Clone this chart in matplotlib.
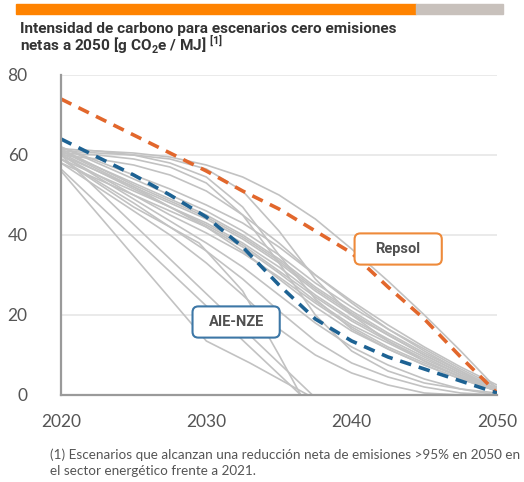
import numpy as np
import matplotlib
matplotlib.use('Agg')
import matplotlib.pyplot as plt
from matplotlib.patches import Rectangle, FancyBboxPatch

plt.rcParams['font.family'] = ['Lato', 'DejaVu Sans']
plt.rcParams['mathtext.fontset'] = 'custom'
plt.rcParams['mathtext.rm'] = 'Roboto'
plt.rcParams['mathtext.bf'] = 'Roboto:bold'

# Years shared by most scenario lines
years = [2020, 2022.5, 2025, 2027.5, 2030, 2032.5, 2035, 2037.5, 2040, 2042.5, 2045, 2047.5, 2050]

# Highlighted scenarios
repsol = [74, 69.5, 65, 60.5, 56, 51, 46.5, 41, 35.5, 27, 19, 9.5, 0.5]
aie_nze = [64, 59.5, 55, 50, 44.5, 37, 27.5, 19, 13.5, 9.5, 6.5, 3.5, 0.5]

# Other net-zero scenarios (grey), on the shared years
scenarios = [
    # plateau then late fall
    [61.5, 61, 60.5, 59.5, 57.5, 54.5, 50, 44, 36.5, 28.5, 20, 11, 1.5],
    [61, 60.5, 60, 59, 56.5, 51, 41, 29, 20, 13.5, 8.5, 4.5, 1],
    [61.5, 61, 60, 58, 54.5, 47, 35, 24, 16.5, 11.5, 7.5, 4, 1],
    [60.5, 60, 59, 57, 53, 45, 33, 20, 11, 6, 3, 1.5, 0.5],
    [60, 59, 57.5, 55, 51, 45, 38, 30, 23, 16.5, 11, 6, 1.5],
    # main bundle
    [62, 58, 54, 50, 46, 41, 35, 28, 22, 16.5, 11.5, 6.5, 2],
    [61, 57, 53, 49, 45, 40, 34, 27, 21, 15.5, 10.5, 6, 1.5],
    [60, 56, 52, 48, 44, 39, 33, 26, 20, 15, 10, 5.5, 1.5],
    [61.5, 57, 52.5, 48.5, 44.5, 39.5, 33.5, 26.5, 20.5, 15, 10, 5.5, 1],
    [59, 55, 51, 47, 43, 38, 32, 25, 19, 14, 9.5, 5, 1],
    [60.5, 56, 51.5, 47, 42.5, 37.5, 31, 24.5, 18.5, 13.5, 9, 5, 1],
    [58, 54, 50, 46, 42, 37, 30.5, 23.5, 17.5, 13, 8.5, 4.5, 1],
    [62, 58.5, 55, 51.5, 47.5, 43, 37, 30, 23.5, 17.5, 12, 7, 2.5],
    [61, 56.5, 52, 47, 42, 36, 29, 22, 16, 11.5, 7.5, 4, 1],
    [60, 55, 50, 45, 40.5, 35.5, 29.5, 23, 17, 12, 8, 4.5, 1],
    # lower, faster decline
    [58, 52, 46, 40, 33, 25, 16.5, 10, 5.5, 2.5, 0.5, 0, 0],
    [59, 53.5, 48, 42, 36, 29, 21, 13.5, 8, 4.5, 2, 0.5, 0],
    [60, 54.5, 49, 43.5, 38, 32, 25, 18, 12, 7.5, 4, 1.5, 0],
]

# Scenarios with their own years (reach zero before 2040)
early_years = [
    [2020, 2030, 2033, 2037],
    [2020, 2037.3],
    [2020, 2036.5],
    [2020, 2025, 2029.5, 2032.5, 2035, 2036.5],
]
early_values = [
    [56, 13.5, 8, 0],
    [60, 0],
    [56.5, 0],
    [59, 47, 38, 26, 10, 0],
]

x_ticks = [2020, 2030, 2040, 2050]
y_ticks = [0, 20, 40, 60, 80]

fig = plt.figure(figsize=(5.24, 4.82), dpi=100)
ax = fig.add_axes([0.1164, 0.1805, 0.8321, 0.6639])

grey = '#C2C2C2'
for vals in scenarios:
    ax.plot(years, vals, color=grey, lw=1.2, solid_capstyle='round', zorder=2)
for xs, vals in zip(early_years, early_values):
    ax.plot(xs, vals, color=grey, lw=1.2, zorder=2)

ax.plot(years, repsol, color='#E2672C', lw=2.6, dashes=(3.2, 2.2), zorder=4)
ax.plot(years, aie_nze, color='#1D6293', lw=2.6, dashes=(3.2, 2.2), zorder=4)

ax.set_xlim(2020, 2050)
ax.set_ylim(0, 80)
ax.set_xticks(x_ticks)
ax.set_yticks(y_ticks)
ax.grid(axis='y', color='#E6E6E6', lw=1.2, zorder=0)
ax.set_axisbelow(True)
for s in ['top', 'right']:
    ax.spines[s].set_visible(False)
for s in ['left', 'bottom']:
    ax.spines[s].set_color('#9A9A9A')
    ax.spines[s].set_linewidth(1.6)
ax.spines['left'].set_zorder(5)
ax.spines['bottom'].set_zorder(5)
ax.tick_params(length=0, labelcolor='#555555', labelsize=12.5)
ax.tick_params(axis='y', pad=24)
ax.tick_params(axis='x', pad=14)

# label boxes (pixel ratio: 1 yr = 14.57 px, 1 unit = 4 px)
asp = 14.57 / 4
for cx, cy, txt, col in [(2043.2, 36.5, 'Repsol', '#EE8A3A'), (2032.05, 18.25, 'AIE-NZE', '#3D77A6')]:
    w, h = 6.0, 7.8
    box = FancyBboxPatch((cx - w / 2, cy - h / 2), w, h,
                         boxstyle='round,pad=0,rounding_size=0.4', mutation_aspect=asp,
                         fc='white', ec=col, lw=1.5, zorder=6)
    ax.add_patch(box)
    ax.text(cx, cy, txt, ha='center', va='center', fontsize=10.5, fontweight='bold',
            color='#505050', family=['Roboto', 'DejaVu Sans'], zorder=7)

# header bar
fig.patches.append(Rectangle((16 / 524, 1 - 14 / 482), 400 / 524, 10 / 482,
                             transform=fig.transFigure, color='#FF8300', zorder=0))
fig.patches.append(Rectangle((416 / 524, 1 - 14 / 482), 87 / 524, 10 / 482,
                             transform=fig.transFigure, color='#C8C1BC', zorder=0))

# title
fig.text(20 / 524, 1 - 29 / 482, 'Intensidad de carbono para escenarios cero emisiones',
         fontsize=11.1, fontweight='bold', color='#333333', family=['Roboto', 'DejaVu Sans'],
         va='center', ha='left')
fig.text(20 / 524, 1 - 45 / 482, r'netas a 2050 [g CO$_\mathbf{2}$e / MJ] $^{\mathbf{[1]}}$',
         fontsize=11.1, fontweight='bold', color='#333333', family=['Roboto', 'DejaVu Sans'],
         va='center', ha='left')

# footnote
fig.text(50 / 524, 1 - 455 / 482,
         '(1) Escenarios que alcanzan una reducción neta de emisiones >95% en 2050 en',
         fontsize=9.7, color='#555555', va='center', ha='left')
fig.text(50 / 524, 1 - 471 / 482, 'el sector energético frente a 2021.',
         fontsize=9.7, color='#555555', va='center', ha='left')

fig.savefig('out.png', dpi=100)
